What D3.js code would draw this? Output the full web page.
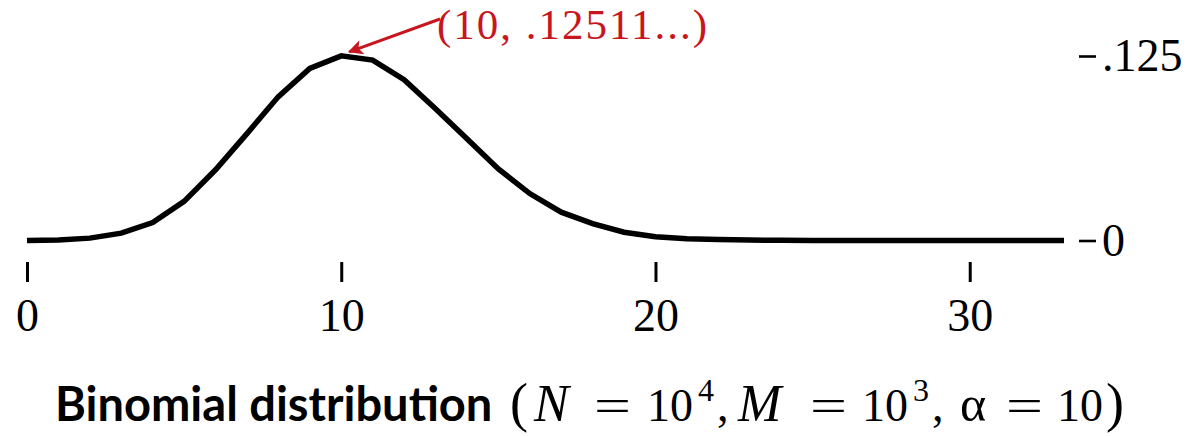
<!DOCTYPE html>
<html>
<head>
<meta charset="utf-8">
<script src="https://cdn.jsdelivr.net/npm/d3@7"></script>
<style>
  html, body { margin: 0; padding: 0; background: #fff; }
  svg { display: block; }
</style>
</head>
<body>
<svg id="chart" width="1200" height="436"></svg>
<script>
// Data (k = 0..33)
const ks = d3.range(0, 34);
const probs = [0.00005, 0.0003, 0.0016, 0.0050, 0.0122, 0.0265, 0.0479, 0.0724, 0.0975, 0.1166,
               0.12511, 0.1222, 0.1090, 0.0893, 0.0690, 0.0485, 0.0318, 0.0192, 0.0114, 0.0056,
               0.0026, 0.0012, 0.0006, 0.0003, 0.0001, 0.00005, 0, 0, 0, 0,
               0, 0, 0, 0];
const xTicks = [0, 10, 20, 30];
const yTicks = [0, 0.125];
const yTickLabels = ["0", ".125"];
const peakK = 10;
const peakLabel = "(10, .12511...)";

const svg = d3.select("#chart");
const serif = "'Liberation Serif', 'Times New Roman', serif";

const x = d3.scaleLinear().domain([0, 33]).range([27, 1064]);
const y = d3.scaleLinear().domain([0, 0.125]).range([240.5, 56]);

// curve
const line = d3.line().x((d, i) => x(ks[i])).y(d => y(d));
svg.append("path")
  .datum(probs)
  .attr("d", line)
  .attr("fill", "none")
  .attr("stroke", "#000")
  .attr("stroke-width", 5.5)
  .attr("stroke-linejoin", "miter");

// x axis
const xAxis = d3.axisBottom(x).tickValues(xTicks).tickSize(20).tickPadding(16).tickFormat(d3.format("d"));
const gx = svg.append("g").attr("transform", "translate(0,262)").call(xAxis);
gx.select(".domain").remove();
gx.selectAll(".tick line").attr("stroke", "#000").attr("stroke-width", 3);
gx.selectAll(".tick text").attr("font-family", serif).attr("font-size", 46).attr("fill", "#000");

// y axis on right
const yAxis = d3.axisRight(y).tickValues(yTicks).tickSize(17).tickPadding(6)
  .tickFormat((d, i) => yTickLabels[i]);
const gy = svg.append("g").attr("transform", "translate(1079,0)").call(yAxis);
gy.select(".domain").remove();
gy.selectAll(".tick line").attr("stroke", "#000").attr("stroke-width", 2.6);
gy.selectAll(".tick text").attr("font-family", serif).attr("font-size", 46).attr("fill", "#000");

// annotation
const red = "#c8161e";
const defs = svg.append("defs");
defs.append("marker")
  .attr("id", "arrow")
  .attr("viewBox", "0 0 10 10")
  .attr("refX", 9).attr("refY", 5)
  .attr("markerWidth", 7.5).attr("markerHeight", 5)
  .attr("markerUnits", "strokeWidth")
  .attr("orient", "auto")
  .append("path").attr("d", "M0,0 L10,5 L0,10 L2.5,5 Z").attr("fill", red);

svg.append("line")
  .attr("x1", 440).attr("y1", 19)
  .attr("x2", x(peakK) + 8).attr("y2", y(probs[peakK]) - 4)
  .attr("stroke", red).attr("stroke-width", 3)
  .attr("marker-end", "url(#arrow)");

svg.append("text")
  .attr("x", 437).attr("y", 39)
  .attr("font-family", serif).attr("font-size", 43)
  .attr("letter-spacing", 2)
  .attr("fill", red)
  .text(peakLabel);

// title
svg.append("text")
  .attr("x", 55).attr("y", 421)
  .attr("font-family", "Lato, 'Open Sans', sans-serif")
  .attr("font-weight", "bold")
  .attr("font-size", 47)
  .attr("fill", "#000")
  .text("Binomial distribution");

const mathParts = [
  {t: "(", x: 510, fs: 54},
  {t: "N", x: 534, it: true, fs: 52},
  {t: "=", x: 594, w: 37},
  {t: "10", x: 647},
  {t: "4", x: 698, fs: 32, dy: -20},
  {t: ",", x: 717},
  {t: "M", x: 738, it: true, fs: 52},
  {t: "=", x: 810, w: 37},
  {t: "10", x: 862},
  {t: "3", x: 913, fs: 32, dy: -20},
  {t: ",", x: 932},
  {t: "α", x: 960, fs: 50},
  {t: "=", x: 1006, w: 37},
  {t: "10", x: 1057},
  {t: ")", x: 1106, fs: 54}
];
const math = svg.append("g").attr("font-family", serif).attr("fill", "#000");
math.selectAll("text").data(mathParts).join("text")
  .attr("x", d => d.x)
  .attr("y", d => 421 + (d.dy || 0))
  .attr("font-size", d => d.fs || 46)
  .attr("font-style", d => d.it ? "italic" : null)
  .attr("textLength", d => d.w || null)
  .attr("lengthAdjust", d => d.w ? "spacingAndGlyphs" : null)
  .text(d => d.t);
</script>
</body>
</html>
